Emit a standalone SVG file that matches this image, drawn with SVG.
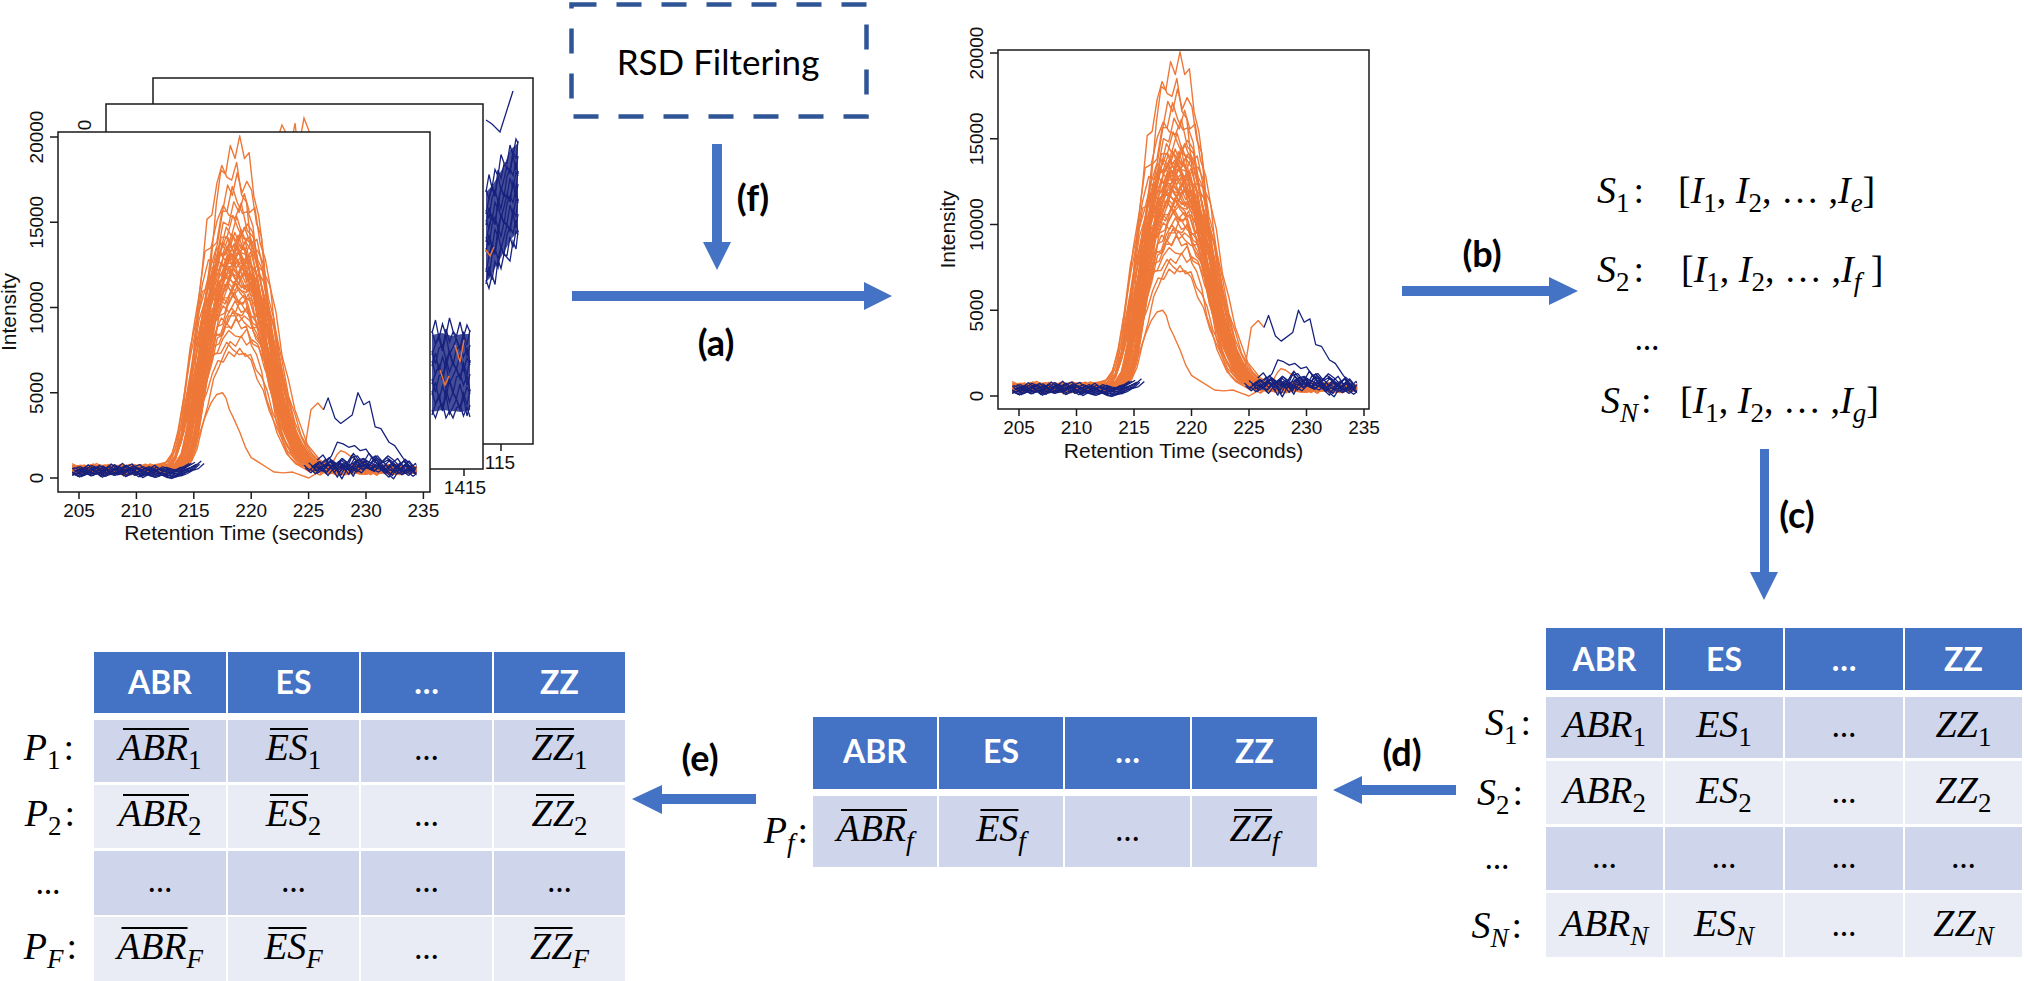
<svg xmlns="http://www.w3.org/2000/svg" xmlns:xlink="http://www.w3.org/1999/xlink" width="2024" height="981" viewBox="0 0 2024 981">
<style>
.bx{fill:#fff;stroke:#1a1a1a;stroke-width:1.5}
.tk{stroke:#1a1a1a;stroke-width:1.5}
.tl{font-family:"Liberation Sans",Arial,sans-serif;font-size:19px;fill:#111}
.at{font-family:"Liberation Sans",Arial,sans-serif;font-size:21px;fill:#111}
.ln{fill:none;vector-effect:non-scaling-stroke;stroke-linejoin:round}
.or{stroke:#EE7838;stroke-width:1.4;fill:none}
.bl{stroke:#17227E;stroke-width:1.3;fill:none}
.blf{fill:#17227E;opacity:0.8}
.arr{fill:#4472C4}
.lab{font-family:Lato,"Open Sans",sans-serif;font-weight:bold;font-size:36px;fill:#000;text-anchor:middle}
.hd{fill:#4472C4}
.r1{fill:#CFD5EA}
.r2{fill:#E9EBF5}
.ht{font-family:Lato,"Open Sans",sans-serif;font-weight:bold;font-size:32px;fill:#fff;text-anchor:middle}
.m{font-family:"Liberation Serif","Times New Roman",serif;font-style:italic;font-size:38px;fill:#000}
.u{font-style:normal}
.sb{font-size:27px;font-style:normal}
.si{font-size:27px;font-style:italic}
.dots{font-family:Lato,sans-serif;font-size:32px;fill:#000;text-anchor:middle}
.ov{stroke:#000;stroke-width:1.8}
</style>
<defs>
<clipPath id="dc" clipPathUnits="userSpaceOnUse"><rect x="-6" y="-215" width="300" height="222"/></clipPath>
<path id="oA" class="ln" d="M-5,0.6L0,-0.8 5,0.4 10,-1 15,0.2 20,-0.6 25,0.9 30,-0.4 35,0.5 40,-1.1 45,0.3 50,-0.5 55,0.8 60,-0.7 65,0.2 70,-0.9 75,0.1 80,-1 85,-2.1 90,-5.8 95,-16.6 100,-32.3 105,-53.6 110,-65.3 115,-81.6 120,-92.4 125,-91.2 130,-100 135,-96 140,-103 145,-96 150,-97.8 155,-84.4 160,-78.5 165,-67.2 170,-48 175,-38.1 180,-25.5 185,-18 190,-10.5 195,-7.2 200,-3.9 205,-2.6 210,-1.5 215,0.3 220,-0.9 225,0.5 230,-0.6 235,0.8 240,-1 245,0.2 250,-0.7 255,0.6 260,-0.3 265,0.9 270,-0.8 275,0.1 280,-0.5 285,0.7 290,-0.4 293,0.2"/>
<path id="oB" class="ln" d="M-5,-0.5L0,0.7 5,-0.9 10,0.3 15,-0.4 20,0.8 25,-1 30,0.2 35,-0.6 40,0.9 45,-0.3 50,0.5 55,-0.8 60,0.4 65,-0.6 70,0.7 75,-0.5 80,-1 85,-1.9 90,-6.1 95,-15.2 100,-34 105,-52.5 110,-66.6 115,-84 120,-85.4 125,-95.9 130,-101.9 135,-98 140,-97 145,-102.9 150,-92.1 155,-89.6 160,-73.9 165,-65.3 170,-51.5 175,-35.2 180,-27 185,-16.7 190,-11.6 195,-6.8 200,-4.1 205,-2.4 210,-1.5 215,-0.6 220,0.4 225,-1 230,0.7 235,-0.3 240,0.6 245,-0.9 250,0.3 255,-0.5 260,0.8 265,-0.7 270,0.2 275,-0.6 280,0.9 285,-0.2 290,0.5 293,-0.4"/>
<path id="oC" class="ln" d="M-5,0.2L0,0.9 5,-0.3 10,0.5 15,-1 20,0.1 25,-0.4 30,0.8 35,-0.8 40,0.2 45,0.7 50,-0.9 55,0.1 60,0.6 65,-0.5 70,0.3 75,-0.8 80,-1 85,-2 90,-6.3 95,-15.7 100,-34.3 105,-49.9 110,-70 115,-79.2 120,-89.8 125,-98.7 130,-95.1 135,-103 140,-96 145,-100 150,-96.8 155,-85.3 160,-80.9 165,-62.1 170,-51 175,-38.5 180,-25.2 185,-17.3 190,-10.6 195,-7.4 200,-3.9 205,-2.6 210,-1.5 215,0.7 220,-0.2 225,-0.8 230,0.4 235,-0.5 240,0.9 245,-0.4 250,0.6 255,-1 260,0.2 265,-0.3 270,0.8 275,-0.7 280,0.3 285,-0.6 290,0.7 293,-0.2"/>
<path id="oD" class="ln" d="M-5,-0.9L0,0.4 5,-0.2 10,0.8 15,-0.7 20,0.3 25,-0.5 30,1 35,-0.1 40,-0.6 45,0.6 50,-1 55,0.2 60,0.5 65,-0.8 70,0.4 75,-0.3 80,-1 85,-2.1 90,-5.8 95,-16.5 100,-32 105,-54.6 110,-66.6 115,-82.4 120,-84.5 125,-95.9 130,-96 135,-105 140,-99 145,-95.1 150,-95.9 155,-90.5 160,-74.7 165,-65.9 170,-49 175,-37.7 180,-27.3 185,-16.3 190,-11.2 195,-6.9 200,-4.2 205,-2.4 210,-1.6 215,-0.2 220,0.8 225,-0.5 230,0.1 235,-0.9 240,0.5 245,0.7 250,-0.6 255,0.2 260,-0.8 265,0.4 270,-0.3 275,0.9 280,-0.7 285,0.1 290,-0.5 293,0.6"/>
<path id="bL1" class="ln" d="M-5,-3.2L0,-4.5 5,-2.8 10,-5.1 15,-3.9 20,-4.8 25,-2.5 30,-5.6 35,-3.4 40,-4.2 45,-6 50,-3 55,-4.4 60,-3.1 65,-5.2 70,-2.6 75,-4 80,-3 85,-2.4 90,-3.8 95,-5 100,-7"/>
<path id="bL2" class="ln" d="M-5,-5L0,-3.1 5,-6.2 10,-3.7 15,-5.8 20,-2.9 25,-6.6 30,-4.1 35,-7 40,-3.3 45,-4.9 50,-6.3 55,-2.7 60,-4.6 65,-3.2 70,-5 75,-3.6 80,-2.2 85,-4.5 90,-5 95,-7"/>
<path id="bL3" class="ln" d="M-5,-2L0,-2.9 5,-1.6 10,-3.5 15,-2.2 20,-4 25,-1.8 30,-3.1 35,-2.4 40,-5.3 45,-2.1 50,-3.8 55,-1.5 60,-3.3 65,-2 70,-1.2 75,-2.6 80,-1 85,-0.8 90,-2 95,-4 100,-5 105,-8"/>
<path id="bR1" class="ln" d="M200,-9L205,-6 210,-9.5 215,-7 220,-10.5 225,-8 230,-11 235,-7.5 240,-9 245,-6.5 250,-10 255,-8.5 260,-7 265,-9.5 270,-6 275,-8 280,-5.5 285,-7 290,-4.5 293,-6"/>
<path id="bR2" class="ln" d="M205,-4L210,-6.5 215,-3 220,-7.5 225,-5 230,-8.5 235,-6 240,-11.5 245,-7 250,-8 255,-5.5 260,-9 265,-6.5 270,-10 275,-7.5 280,-4 285,-8 290,-5 293,-3"/>
<path id="bR3" class="ln" d="M210,-8L215,-11 220,-6 225,-0.5 230,-7 235,-2 240,-9.5 245,-10.5 250,-6 255,-12 260,-8 265,-3.5 270,-0.5 275,-6 280,-9 285,-4 290,-7.5 293,-5"/>
<g id="chrom" clip-path="url(#dc)">
 <g class="or">
  <use href="#oA" transform="translate(140,-5) scale(0.82,1.9) translate(-140,0)"/>
  <use href="#oB" transform="translate(133,-4) scale(0.86,1.76) translate(-140,0)"/>
  <use href="#oC" transform="translate(142,-6) scale(0.84,1.68) translate(-140,0)"/>
  <use href="#oD" transform="translate(138,-3) scale(0.9,1.6) translate(-140,0)"/>
  <use href="#oA" transform="translate(144,-5) scale(0.92,1.57) translate(-140,0)"/>
  <use href="#oB" transform="translate(136,-7) scale(1.05,1.5) translate(-140,0)"/>
  <use href="#oC" transform="translate(142,-4) scale(0.92,1.45) translate(-140,0)"/>
  <use href="#oD" transform="translate(139,-6) scale(1,1.41) translate(-140,0)"/>
  <use href="#oA" transform="translate(144,-5) scale(1.1,1.38) translate(-140,0)"/>
  <use href="#oB" transform="translate(137,-4) scale(0.88,1.35) translate(-140,0)"/>
  <use href="#oC" transform="translate(141,-5) scale(1.04,1.35) translate(-140,0)"/>
  <use href="#oD" transform="translate(146,-4) scale(0.96,1.35) translate(-140,0)"/>
  <use href="#oA" transform="translate(134,-6) scale(1.06,1.32) translate(-140,0)"/>
  <use href="#oB" transform="translate(140,-3) scale(0.95,1.32) translate(-140,0)"/>
  <use href="#oC" transform="translate(135,-5) scale(1.02,1.32) translate(-140,0)"/>
  <use href="#oD" transform="translate(143,-7) scale(0.9,1.29) translate(-140,0)"/>
  <use href="#oA" transform="translate(138,-4) scale(1.08,1.29) translate(-140,0)"/>
  <use href="#oB" transform="translate(145,-6) scale(0.98,1.29) translate(-140,0)"/>
  <use href="#oC" transform="translate(136,-5) scale(1.05,1.25) translate(-140,0)"/>
  <use href="#oD" transform="translate(142,-4) scale(0.92,1.25) translate(-140,0)"/>
  <use href="#oA" transform="translate(139,-5) scale(1,1.25) translate(-140,0)"/>
  <use href="#oB" transform="translate(144,-4) scale(1.1,1.25) translate(-140,0)"/>
  <use href="#oC" transform="translate(137,-6) scale(0.88,1.22) translate(-140,0)"/>
  <use href="#oD" transform="translate(141,-3) scale(1.04,1.22) translate(-140,0)"/>
  <use href="#oA" transform="translate(146,-5) scale(0.96,1.22) translate(-140,0)"/>
  <use href="#oB" transform="translate(134,-7) scale(1.06,1.22) translate(-140,0)"/>
  <use href="#oC" transform="translate(140,-4) scale(0.95,1.18) translate(-140,0)"/>
  <use href="#oD" transform="translate(135,-6) scale(1.02,1.18) translate(-140,0)"/>
  <use href="#oA" transform="translate(143,-5) scale(0.9,1.18) translate(-140,0)"/>
  <use href="#oB" transform="translate(138,-4) scale(1.08,1.18) translate(-140,0)"/>
  <use href="#oC" transform="translate(145,-5) scale(0.98,1.14) translate(-140,0)"/>
  <use href="#oD" transform="translate(136,-4) scale(1.05,1.14) translate(-140,0)"/>
  <use href="#oA" transform="translate(142,-6) scale(0.92,1.14) translate(-140,0)"/>
  <use href="#oB" transform="translate(139,-3) scale(1,1.14) translate(-140,0)"/>
  <use href="#oC" transform="translate(144,-5) scale(1.1,1.1) translate(-140,0)"/>
  <use href="#oD" transform="translate(137,-7) scale(0.88,1.1) translate(-140,0)"/>
  <use href="#oA" transform="translate(141,-4) scale(1.04,1.1) translate(-140,0)"/>
  <use href="#oB" transform="translate(146,-6) scale(0.96,1.06) translate(-140,0)"/>
  <use href="#oC" transform="translate(134,-5) scale(1.06,1.06) translate(-140,0)"/>
  <use href="#oD" transform="translate(140,-4) scale(0.95,1.06) translate(-140,0)"/>
  <use href="#oA" transform="translate(135,-5) scale(1.02,1.01) translate(-140,0)"/>
  <use href="#oB" transform="translate(143,-4) scale(0.9,1.01) translate(-140,0)"/>
  <use href="#oC" transform="translate(138,-6) scale(1.08,1.01) translate(-140,0)"/>
  <use href="#oD" transform="translate(145,-3) scale(0.98,0.96) translate(-140,0)"/>
  <use href="#oA" transform="translate(136,-5) scale(1.05,0.96) translate(-140,0)"/>
  <use href="#oB" transform="translate(142,-7) scale(0.92,0.91) translate(-140,0)"/>
  <use href="#oC" transform="translate(139,-4) scale(1,0.91) translate(-140,0)"/>
  <use href="#oD" transform="translate(144,-6) scale(1.1,0.86) translate(-140,0)"/>
  <use href="#oA" transform="translate(137,-5) scale(0.88,0.86) translate(-140,0)"/>
  <use href="#oB" transform="translate(141,-4) scale(1.04,0.81) translate(-140,0)"/>
  <use href="#oC" transform="translate(146,-5) scale(0.96,0.76) translate(-140,0)"/>
  <use href="#oD" transform="translate(134,-4) scale(1.06,0.72) translate(-140,0)"/>
  <use href="#oA" transform="translate(140,-6) scale(0.95,0.68) translate(-140,0)"/>
  <path class="ln" d="M80,-5L90,-9 100,-17 105,-26 110,-36 115,-44 120,-49 125,-50 128,-47 131,-40 134,-36 140,-27 145,-18 150,-12 157,-9 164,-6 170,-3.5 178,-3 186,-3.5 192,-2 200,0 205,-2 208,-3.5 213,-6 220,-8 225,-14 228,-16 232,-15 240,-11 250,-8 265,-6 280,-5 293,-4"/>
  <path class="ln" d="M195,-10L198,-23 202,-40 208,-44 213,-40"/>
 </g>
 <g class="bl">
  <use href="#bL1"/><use href="#bL2"/><use href="#bL3"/>
  <use href="#bL1" transform="translate(2.5,-1.2)"/>
  <use href="#bL2" transform="translate(-2.5,1)"/>
  <use href="#bL3" transform="translate(1.5,-2)"/>
  <use href="#bL1" transform="translate(-1.5,1.5)"/>
  <use href="#bL2" transform="translate(3,-1.6)"/>
  <use href="#bL3" transform="translate(-3,0.8)"/>
  <use href="#bL1" transform="translate(1,-2.2)"/>
  <use href="#bL2" transform="translate(-1,2)"/>
  <use href="#bL3" transform="translate(4,-0.5)"/>
  <use href="#bL1" transform="translate(-4,-1.5)"/>
  <use href="#bL2" transform="translate(0.5,2.5)"/>
  <use href="#bR1"/><use href="#bR2"/><use href="#bR3"/>
  <use href="#bR1" transform="translate(2.5,2)"/>
  <use href="#bR2" transform="translate(-2,-2)"/>
  <use href="#bR3" transform="translate(3,-1)"/>
  <use href="#bR1" transform="translate(-3,3)"/>
  <use href="#bR2" transform="translate(2,1.5)"/>
  <use href="#bR3" transform="translate(-2.5,-2.5)"/>
  <use href="#bR1" transform="translate(1,3.5)"/>
  <use href="#bR2" transform="translate(-1,-3)"/>
  <use href="#bR3" transform="translate(4,1)"/>
  <use href="#bR1" transform="translate(-4,1.5)"/>
  <path class="ln" d="M213,-40L217,-47 223,-35 228,-32 238,-37 243,-50 248,-43 253,-45 258,-30 263,-29 270,-21 275,-19 282,-12 288,-7 293,-4"/>
  <path class="ln" d="M215,-9L220,-13 225,-21 230,-20 235,-18 240,-19 245,-16 250,-17 255,-12 260,-13 265,-9 270,-11 275,-6 285,-4 293,-5"/>
 </g>
</g>
</defs>

<g id="plotStack">
 <rect class="bx" x="153" y="78" width="380" height="366"/>
 <polygon class="blf" points="486,192 492,186 498,176 504,166 510,150 518,143 518,232 512,238 504,252 496,266 490,278 486,282"/>
 <g class="bl">
  <polyline points="486,192 489,174.5 492,188 495,169.5 498,176 501,154.5 504,163 507,163.5 510,145 513,155.5 516,139 518,143"/>
  <polyline points="486,190 489,198.5 492,185 495,194.5 498,170 501,178.5 504,164 507,167.5 510,171 513,151.5 516,159 518,141"/>
  <polyline points="486,214 489,198.5 492,188 495,196.5 498,176 501,190.5 504,179 507,166.5 510,173 513,155.5 516,170 518,156"/>
  <polyline points="486,210 489,218.5 492,198 495,190.5 498,201 501,188.5 504,197 507,176.5 510,169 513,175.5 516,162 518,174"/>
  <polyline points="486,225 489,207.5 492,221 495,202.5 498,209 501,187.5 504,196 507,196.5 510,178 513,188.5 516,172 518,176"/>
  <polyline points="486,220 489,228.5 492,215 495,224.5 498,200 501,208.5 504,194 507,197.5 510,201 513,181.5 516,189 518,171"/>
  <polyline points="486,242 489,226.5 492,216 495,224.5 498,204 501,218.5 504,207 507,194.5 510,201 513,183.5 516,198 518,184"/>
  <polyline points="486,237 489,245.5 492,225 495,217.5 498,228 501,215.5 504,224 507,203.5 510,196 513,202.5 516,189 518,201"/>
  <polyline points="486,252 489,234.5 492,248 495,229.5 498,236 501,214.5 504,223 507,223.5 510,205 513,215.5 516,199 518,203"/>
  <polyline points="486,248 489,256.5 492,243 495,252.5 498,228 501,236.5 504,222 507,225.5 510,229 513,209.5 516,217 518,199"/>
  <polyline points="486,272 489,256.5 492,246 495,254.5 498,234 501,248.5 504,237 507,224.5 510,231 513,213.5 516,228 518,214"/>
  <polyline points="486,268 489,276.5 492,256 495,248.5 498,259 501,246.5 504,255 507,234.5 510,227 513,233.5 516,220 518,232"/>
  <polyline points="486,284 489,266.5 492,280 495,261.5 498,268 501,246.5 504,255 507,255.5 510,237 513,247.5 516,231 518,235"/>
  <polyline points="486,280 489,288.5 492,275 495,284.5 498,260 501,268.5 504,254 507,257.5 510,261 513,241.5 516,249 518,231"/>
  <polyline points="486,120 492,124 500,132 513,91"/>
 </g>
 <polyline class="or" points="486,250 490,256 494,247"/>
 <line class="tk" x1="501" y1="444" x2="501" y2="451"/>
 <text class="tl" x="500" y="469" text-anchor="middle">115</text>

 <rect class="bx" x="106" y="104" width="377" height="365"/>
 <polyline class="or" points="277,140 282,125 286,133 290,140"/>
 <polyline class="or" points="292,140 295,123 297,140"/>
 <polyline class="or" points="300,140 304,118 309,131 311,140"/>
 <polygon class="blf" points="432,335 442,333 452,336 462,334 470,334 470,410 462,412 452,411 442,410 432,412"/>
 <g class="bl">
  <polyline points="432,333 435.5,320 439,338 442.5,324 446,335 449.5,318 453,331 456.5,336 460,322 463.5,337 467,325 470,332"/>
  <polyline points="432,331 435.5,344 439,335 442.5,349 446,329 449.5,342 453,332 456.5,340 460,348 463.5,333 467,345 470,330"/>
  <polyline points="432,355 435.5,344 439,338 442.5,351 446,335 449.5,354 453,347 456.5,339 460,350 463.5,337 467,356 470,345"/>
  <polyline points="432,351 435.5,364 439,348 442.5,345 446,360 449.5,352 453,365 456.5,349 460,346 463.5,357 467,348 470,363"/>
  <polyline points="432,366 435.5,353 439,371 442.5,357 446,368 449.5,351 453,364 456.5,369 460,355 463.5,370 467,358 470,365"/>
  <polyline points="432,361 435.5,374 439,365 442.5,379 446,359 449.5,372 453,362 456.5,370 460,378 463.5,363 467,375 470,360"/>
  <polyline points="432,384 435.5,373 439,367 442.5,380 446,364 449.5,383 453,376 456.5,368 460,379 463.5,366 467,385 470,374"/>
  <polyline points="432,379 435.5,392 439,376 442.5,373 446,388 449.5,380 453,393 456.5,377 460,374 463.5,385 467,376 470,391"/>
  <polyline points="432,395 435.5,382 439,400 442.5,386 446,397 449.5,380 453,393 456.5,398 460,384 463.5,399 467,387 470,394"/>
  <polyline points="432,391 435.5,404 439,395 442.5,409 446,389 449.5,402 453,392 456.5,400 460,408 463.5,393 467,405 470,390"/>
  <polyline points="432,415 435.5,404 439,398 442.5,411 446,395 449.5,414 453,407 456.5,399 460,410 463.5,397 467,416 470,405"/>
  <polyline points="432,410 435.5,418 439,407 442.5,404 446,418 449.5,411 453,418 456.5,408 460,405 463.5,416 467,407 470,417"/>
 </g>
 <polyline class="or" points="455,345 460,362 464,340"/>
 <polyline class="or" points="440,370 445,385 449,376"/>
 <text class="tl" transform="translate(91,125) rotate(-90)" text-anchor="middle">0</text>
 <line class="tk" x1="464" y1="469" x2="464" y2="476"/>
 <text class="tl" x="465" y="494" text-anchor="middle">1415</text>

 <rect class="bx" x="58" y="132" width="372" height="360"/>
 <use href="#chrom" transform="translate(79,478) scale(1.148,1.705)"/>
 <g class="tk">
  <line x1="50" y1="478" x2="58" y2="478"/><line x1="50" y1="392.75" x2="58" y2="392.75"/><line x1="50" y1="307.5" x2="58" y2="307.5"/><line x1="50" y1="222.25" x2="58" y2="222.25"/><line x1="50" y1="137" x2="58" y2="137"/>
  <line x1="79" y1="492" x2="79" y2="499"/><line x1="136.4" y1="492" x2="136.4" y2="499"/><line x1="193.8" y1="492" x2="193.8" y2="499"/><line x1="251.2" y1="492" x2="251.2" y2="499"/><line x1="308.6" y1="492" x2="308.6" y2="499"/><line x1="366" y1="492" x2="366" y2="499"/><line x1="423.4" y1="492" x2="423.4" y2="499"/>
 </g>
 <g class="tl" text-anchor="middle">
  <text transform="translate(43,478) rotate(-90)">0</text>
  <text transform="translate(43,392.75) rotate(-90)">5000</text>
  <text transform="translate(43,307.5) rotate(-90)">10000</text>
  <text transform="translate(43,222.25) rotate(-90)">15000</text>
  <text transform="translate(43,137) rotate(-90)">20000</text>
  <text x="79" y="517">205</text><text x="136.4" y="517">210</text><text x="193.8" y="517">215</text><text x="251.2" y="517">220</text><text x="308.6" y="517">225</text><text x="366" y="517">230</text><text x="423.4" y="517">235</text>
 </g>
 <text class="at" x="244" y="540" text-anchor="middle">Retention Time (seconds)</text>
 <text class="at" transform="translate(16,312) rotate(-90)" text-anchor="middle">Intensity</text>
</g>

<g id="rsdBox">
 <rect x="571.5" y="4.5" width="295" height="112" fill="none" stroke="#2F5597" stroke-width="4.5" stroke-dasharray="25 20"/>
 <text x="718" y="75" text-anchor="middle" font-family="Lato, 'Open Sans', sans-serif" font-size="35" fill="#000">RSD Filtering</text>
</g>

<g id="plotFiltered">
 <rect class="bx" x="998" y="50" width="371" height="359"/>
 <use href="#chrom" transform="translate(1019,396) scale(1.15,1.715)"/>
 <g class="tk">
  <line x1="990" y1="396" x2="998" y2="396"/><line x1="990" y1="310.25" x2="998" y2="310.25"/><line x1="990" y1="224.5" x2="998" y2="224.5"/><line x1="990" y1="138.75" x2="998" y2="138.75"/><line x1="990" y1="53" x2="998" y2="53"/>
  <line x1="1019" y1="409" x2="1019" y2="416"/><line x1="1076.5" y1="409" x2="1076.5" y2="416"/><line x1="1134" y1="409" x2="1134" y2="416"/><line x1="1191.5" y1="409" x2="1191.5" y2="416"/><line x1="1249" y1="409" x2="1249" y2="416"/><line x1="1306.5" y1="409" x2="1306.5" y2="416"/><line x1="1364" y1="409" x2="1364" y2="416"/>
 </g>
 <g class="tl" text-anchor="middle">
  <text transform="translate(983,396) rotate(-90)">0</text>
  <text transform="translate(983,310.25) rotate(-90)">5000</text>
  <text transform="translate(983,224.5) rotate(-90)">10000</text>
  <text transform="translate(983,138.75) rotate(-90)">15000</text>
  <text transform="translate(983,53) rotate(-90)">20000</text>
  <text x="1019" y="434">205</text><text x="1076.5" y="434">210</text><text x="1134" y="434">215</text><text x="1191.5" y="434">220</text><text x="1249" y="434">225</text><text x="1306.5" y="434">230</text><text x="1364" y="434">235</text>
 </g>
 <text class="at" x="1183.5" y="458" text-anchor="middle">Retention Time (seconds)</text>
 <text class="at" transform="translate(955,229.5) rotate(-90)" text-anchor="middle">Intensity</text>
</g>

<g id="spectraList">
 <text class="m" x="1597" y="203">S<tspan class="sb" dy="9">1</tspan><tspan class="u" dy="-9" dx="4">:</tspan></text>
 <text class="m" x="1678" y="203"><tspan class="u">[</tspan>I<tspan class="sb" dy="9">1</tspan><tspan class="u" dy="-9">, </tspan>I<tspan class="sb" dy="9">2</tspan><tspan class="u" dy="-9">, … ,</tspan>I<tspan class="si" dy="9">e</tspan><tspan class="u" dy="-9">]</tspan></text>
 <text class="m" x="1597" y="282">S<tspan class="sb" dy="9">2</tspan><tspan class="u" dy="-9" dx="4">:</tspan></text>
 <text class="m" x="1681" y="282"><tspan class="u">[</tspan>I<tspan class="sb" dy="9">1</tspan><tspan class="u" dy="-9">, </tspan>I<tspan class="sb" dy="9">2</tspan><tspan class="u" dy="-9">, … ,</tspan>I<tspan class="si" dy="9">f</tspan><tspan class="u" dy="-9"> ]</tspan></text>
 <text class="dots" x="1647" y="350">…</text>
 <text class="m" x="1601" y="413">S<tspan class="si" dy="9">N</tspan><tspan class="u" dy="-9" dx="3">:</tspan></text>
 <text class="m" x="1680" y="413"><tspan class="u">[</tspan>I<tspan class="sb" dy="9">1</tspan><tspan class="u" dy="-9">, </tspan>I<tspan class="sb" dy="9">2</tspan><tspan class="u" dy="-9">, … ,</tspan>I<tspan class="si" dy="9">g</tspan><tspan class="u" dy="-9">]</tspan></text>
</g>

<g id="tableS">
 <rect class="hd" x="1546" y="628" width="117" height="62"/><rect class="hd" x="1665" y="628" width="118" height="62"/><rect class="hd" x="1785" y="628" width="118" height="62"/><rect class="hd" x="1905" y="628" width="117" height="62"/>
 <rect class="r1" x="1546" y="697" width="117" height="61"/><rect class="r1" x="1665" y="697" width="118" height="61"/><rect class="r1" x="1785" y="697" width="118" height="61"/><rect class="r1" x="1905" y="697" width="117" height="61"/>
 <rect class="r2" x="1546" y="761" width="117" height="63"/><rect class="r2" x="1665" y="761" width="118" height="63"/><rect class="r2" x="1785" y="761" width="118" height="63"/><rect class="r2" x="1905" y="761" width="117" height="63"/>
 <rect class="r1" x="1546" y="827" width="117" height="63"/><rect class="r1" x="1665" y="827" width="118" height="63"/><rect class="r1" x="1785" y="827" width="118" height="63"/><rect class="r1" x="1905" y="827" width="117" height="63"/>
 <rect class="r2" x="1546" y="893" width="117" height="64"/><rect class="r2" x="1665" y="893" width="118" height="64"/><rect class="r2" x="1785" y="893" width="118" height="64"/><rect class="r2" x="1905" y="893" width="117" height="64"/>
 <text class="ht" x="1604.5" y="671">ABR</text><text class="ht" x="1724" y="671">ES</text><text class="ht" x="1844" y="671">…</text><text class="ht" x="1963.5" y="671">ZZ</text>
 <g class="m" text-anchor="middle">
  <text x="1604.5" y="737">ABR<tspan class="sb" dy="9">1</tspan></text>
  <text x="1724" y="737">ES<tspan class="sb" dy="9">1</tspan></text>
  <text x="1963.5" y="737">ZZ<tspan class="sb" dy="9">1</tspan></text>
  <text x="1604.5" y="803">ABR<tspan class="sb" dy="9">2</tspan></text>
  <text x="1724" y="803">ES<tspan class="sb" dy="9">2</tspan></text>
  <text x="1963.5" y="803">ZZ<tspan class="sb" dy="9">2</tspan></text>
  <text x="1604.5" y="936">ABR<tspan class="si" dy="9">N</tspan></text>
  <text x="1724" y="936">ES<tspan class="si" dy="9">N</tspan></text>
  <text x="1963.5" y="936">ZZ<tspan class="si" dy="9">N</tspan></text>
 </g>
 <text class="dots" x="1844" y="737">…</text><text class="dots" x="1844" y="803">…</text>
 <text class="dots" x="1604.5" y="868">…</text><text class="dots" x="1724" y="868">…</text><text class="dots" x="1844" y="868">…</text><text class="dots" x="1963.5" y="868">…</text>
 <text class="dots" x="1844" y="936">…</text>
 <g class="m" text-anchor="end">
  <text x="1531" y="735">S<tspan class="sb" dy="9">1</tspan><tspan class="u" dy="-9" dx="3">:</tspan></text>
  <text x="1523" y="805">S<tspan class="sb" dy="9">2</tspan><tspan class="u" dy="-9" dx="3">:</tspan></text>
  <text x="1522" y="938">S<tspan class="si" dy="9">N</tspan><tspan class="u" dy="-9" dx="3">:</tspan></text>
 </g>
 <text class="dots" x="1497" y="869">…</text>
</g>

<g id="tablePf">
 <rect class="hd" x="813" y="717" width="124" height="72"/><rect class="hd" x="939" y="717" width="124" height="72"/><rect class="hd" x="1065" y="717" width="125" height="72"/><rect class="hd" x="1192" y="717" width="125" height="72"/>
 <rect class="r1" x="813" y="796" width="124" height="71"/><rect class="r1" x="939" y="796" width="124" height="71"/><rect class="r1" x="1065" y="796" width="125" height="71"/><rect class="r1" x="1192" y="796" width="125" height="71"/>
 <g class="ht" font-size="30"><text x="875" y="763">ABR</text><text x="1001" y="763">ES</text><text x="1127.5" y="763">…</text><text x="1254.5" y="763">ZZ</text></g>
 <g class="m" text-anchor="middle">
  <text x="875" y="841">ABR<tspan class="si" dy="9">f</tspan></text>
  <text x="1001" y="841">ES<tspan class="si" dy="9">f</tspan></text>
  <text x="1254.5" y="841">ZZ<tspan class="si" dy="9">f</tspan></text>
 </g>
 <g class="ov"><line x1="841" y1="810" x2="907" y2="810"/><line x1="980.5" y1="810" x2="1018.5" y2="810"/><line x1="1234" y1="810" x2="1272" y2="810"/></g>
 <text class="dots" x="1127.5" y="841">…</text>
 <text class="m" x="808" y="843" text-anchor="end">P<tspan class="si" dy="9">f</tspan><tspan class="u" dy="-9" dx="3">:</tspan></text>
</g>

<g id="tableP">
 <rect class="hd" x="94" y="652" width="132" height="61"/><rect class="hd" x="228" y="652" width="131" height="61"/><rect class="hd" x="361" y="652" width="131" height="61"/><rect class="hd" x="494" y="652" width="131" height="61"/>
 <rect class="r1" x="94" y="720" width="132" height="62"/><rect class="r1" x="228" y="720" width="131" height="62"/><rect class="r1" x="361" y="720" width="131" height="62"/><rect class="r1" x="494" y="720" width="131" height="62"/>
 <rect class="r2" x="94" y="785" width="132" height="63"/><rect class="r2" x="228" y="785" width="131" height="63"/><rect class="r2" x="361" y="785" width="131" height="63"/><rect class="r2" x="494" y="785" width="131" height="63"/>
 <rect class="r1" x="94" y="851" width="132" height="64"/><rect class="r1" x="228" y="851" width="131" height="64"/><rect class="r1" x="361" y="851" width="131" height="64"/><rect class="r1" x="494" y="851" width="131" height="64"/>
 <rect class="r2" x="94" y="917" width="132" height="64"/><rect class="r2" x="228" y="917" width="131" height="64"/><rect class="r2" x="361" y="917" width="131" height="64"/><rect class="r2" x="494" y="917" width="131" height="64"/>
 <text class="ht" x="160" y="694">ABR</text><text class="ht" x="293.5" y="694">ES</text><text class="ht" x="426.5" y="694">…</text><text class="ht" x="559.5" y="694">ZZ</text>
 <g class="m" text-anchor="middle">
  <text x="160" y="760">ABR<tspan class="sb" dy="9">1</tspan></text>
  <text x="293.5" y="760">ES<tspan class="sb" dy="9">1</tspan></text>
  <text x="559.5" y="760">ZZ<tspan class="sb" dy="9">1</tspan></text>
  <text x="160" y="826">ABR<tspan class="sb" dy="9">2</tspan></text>
  <text x="293.5" y="826">ES<tspan class="sb" dy="9">2</tspan></text>
  <text x="559.5" y="826">ZZ<tspan class="sb" dy="9">2</tspan></text>
  <text x="160" y="959">ABR<tspan class="si" dy="9">F</tspan></text>
  <text x="293.5" y="959">ES<tspan class="si" dy="9">F</tspan></text>
  <text x="559.5" y="959">ZZ<tspan class="si" dy="9">F</tspan></text>
 </g>
 <g class="ov">
  <line x1="123" y1="729" x2="189" y2="729"/><line x1="270" y1="729" x2="308" y2="729"/><line x1="536" y1="729" x2="574" y2="729"/>
  <line x1="123" y1="795" x2="189" y2="795"/><line x1="270" y1="795" x2="308" y2="795"/><line x1="536" y1="795" x2="574" y2="795"/>
  <line x1="121.5" y1="928" x2="187.5" y2="928"/><line x1="268.5" y1="928" x2="306.5" y2="928"/><line x1="534.5" y1="928" x2="572.5" y2="928"/>
 </g>
 <text class="dots" x="426.5" y="760">…</text><text class="dots" x="426.5" y="826">…</text>
 <text class="dots" x="160" y="892">…</text><text class="dots" x="293.5" y="892">…</text><text class="dots" x="426.5" y="892">…</text><text class="dots" x="559.5" y="892">…</text>
 <text class="dots" x="426.5" y="959">…</text>
 <g class="m" text-anchor="end">
  <text x="74" y="760">P<tspan class="sb" dy="9">1</tspan><tspan class="u" dy="-9" dx="3">:</tspan></text>
  <text x="75" y="826">P<tspan class="sb" dy="9">2</tspan><tspan class="u" dy="-9" dx="3">:</tspan></text>
  <text x="77" y="959">P<tspan class="si" dy="9">F</tspan><tspan class="u" dy="-9" dx="3">:</tspan></text>
 </g>
 <text class="dots" x="48" y="894">…</text>
</g>

<g id="connectors">
 <path class="arr" d="M712,144H722V242H731L717,270L703,242H712Z"/>
 <path class="arr" d="M572,291H864V282L892,296L864,310V301H572Z"/>
 <path class="arr" d="M1402,286H1549V277L1578,291L1549,305V296H1402Z"/>
 <path class="arr" d="M1760,449H1769V572H1778L1764,600L1750,572H1760Z"/>
 <path class="arr" d="M1456,785H1362V776L1333,790L1362,804V795H1456Z"/>
 <path class="arr" d="M756,794H662V785L632,799L662,814V804H756Z"/>
 <text class="lab" x="753" y="211">(f)</text>
 <text class="lab" x="716" y="356">(a)</text>
 <text class="lab" x="1482" y="267">(b)</text>
 <text class="lab" x="1797" y="528">(c)</text>
 <text class="lab" x="1402" y="766">(d)</text>
 <text class="lab" x="700" y="771">(e)</text>
</g>
</svg>
